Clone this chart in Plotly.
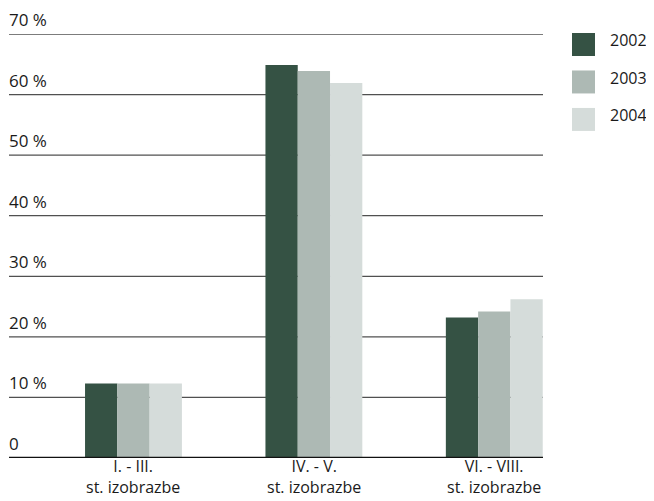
import plotly.graph_objects as go

category_line1 = ["I. - III.", "IV. - V.", "VI. - VIII."]
category_line2 = ["st. izobrazbe", "st. izobrazbe", "st. izobrazbe"]
years = ["2002", "2003", "2004"]
values_2002 = [12.3, 64.9, 23.2]
values_2003 = [12.3, 63.9, 24.2]
values_2004 = [12.3, 61.9, 26.2]
series = [values_2002, values_2003, values_2004]
colors = ["#355244", "#adb9b4", "#d5dcda"]
y_ticks = [0, 10, 20, 30, 40, 50, 60, 70]
y_tick_labels = ["0", "10 %", "20 %", "30 %", "40 %", "50 %", "60 %", "70 %"]

FONT = "Open Sans"
TXT = "#1a1a1a"

# plot area in page pixels (the page body adds an 8px offset)
OFF = 8
PX_L, PX_R, PX_T, PX_B = 9, 543, 34, 458.3
W, H = 654, 501
PW, PH = PX_R - PX_L, PX_B - PX_T


def px_to_paper_x(px):
    return (px - PX_L) / PW


def px_to_paper_y(py):
    return (PX_B - py) / PH


xs = list(range(len(category_line1)))

fig = go.Figure()
for name, vals, col in zip(years, series, colors):
    fig.add_trace(go.Bar(x=xs, y=vals, name=name,
                         marker=dict(color=col, line=dict(width=0)), showlegend=False))

# gridlines (except baseline)
for v in y_ticks[1:]:
    fig.add_shape(type="line", xref="paper", yref="y", x0=0, x1=1, y0=v, y1=v,
                  line=dict(color="#505050", width=1.3), layer="below")
fig.add_shape(type="line", xref="paper", yref="y", x0=0, x1=1, y0=0, y1=0,
              line=dict(color="#111111", width=2.5), layer="above")

# y tick labels above lines
for v, t in zip(y_ticks, y_tick_labels):
    fig.add_annotation(xref="paper", yref="y", x=0, y=v, text=t, showarrow=False,
                       xanchor="left", yanchor="bottom", yshift=1, xshift=-2,
                       font=dict(family=FONT, size=17, color=TXT))

# category labels (two lines)
for x, l1, l2 in zip(xs, category_line1, category_line2):
    fig.add_annotation(xref="x", yref="paper", x=x, y=0, text=l1 + "<br>" + l2,
                       showarrow=False, xanchor="center", yanchor="bottom",
                       yshift=-(500.5 - PX_B), align="center",
                       font=dict(family=FONT, size=16, color=TXT))

# legend
for i, (name, col) in enumerate(zip(years, colors)):
    y_top = 33 + i * 37.5
    fig.add_shape(type="rect", xref="paper", yref="paper",
                  x0=px_to_paper_x(572), x1=px_to_paper_x(595),
                  y0=px_to_paper_y(y_top), y1=px_to_paper_y(y_top + 23),
                  line=dict(width=0), fillcolor=col)
    fig.add_annotation(xref="paper", yref="paper", x=px_to_paper_x(608),
                       y=px_to_paper_y(y_top + 7.5), text=name, showarrow=False,
                       xanchor="left", yanchor="middle",
                       font=dict(family=FONT, size=16, color=TXT))

fig.update_layout(
    width=W, height=H,
    margin=dict(l=PX_L - OFF, r=W - (PX_R - OFF), t=PX_T - OFF, b=H - (PX_B - OFF)),
    paper_bgcolor="white", plot_bgcolor="white",
    barmode="group", bargap=0.463, bargroupgap=0,
    font=dict(family=FONT, size=17, color=TXT),
    xaxis=dict(range=[-0.69, 2.27], showgrid=False, zeroline=False, showline=False,
               showticklabels=False, ticks=""),
    yaxis=dict(range=[0, 70], showgrid=False, zeroline=False, showline=False,
               showticklabels=False, ticks=""),
)

fig.write_html("out.html")
